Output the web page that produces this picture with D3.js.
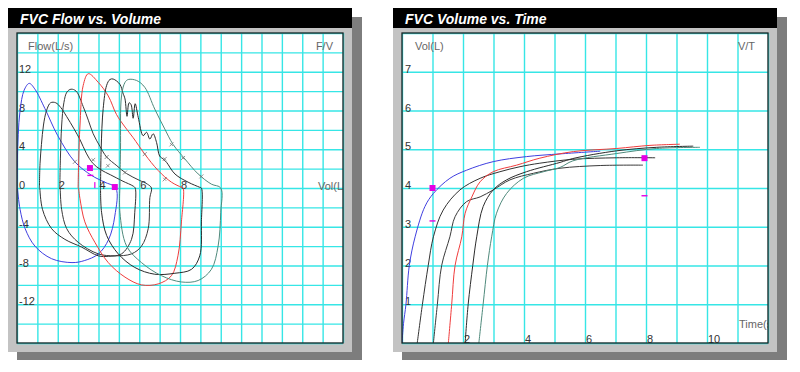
<!DOCTYPE html>
<html>
<head>
<meta charset="utf-8">
<script src="https://cdn.jsdelivr.net/npm/d3@7"></script>
<style>
  body { margin: 0; background: #fff; }
  svg { font-family: Arial, "Liberation Sans", sans-serif; }
</style>
</head>
<body>
<div id="chart"></div>
<script>
// ---- flow / volume loops, [volume L, flow L/s] ----
var fvBlue = [[0,0],[0.02,3],[0.06,5.5],[0.15,8],[0.35,10.1],[0.6,10.8],[0.88,10.2],[1.37,8.2],[2.0,5.4],[2.84,2.7],[3.66,1.3],[4.3,0.6],[4.85,0],
  [4.8,-2.9],[4.5,-5.3],[4.0,-6.8],[3.3,-7.5],[2.7,-7.7],[1.7,-7.3],[0.88,-6],[0.4,-4.2],[0.15,-2.2],[0.02,0]];
var fvBlack1 = [[1.1,0],[1.13,2.5],[1.2,4.5],[1.3,6.5],[1.45,8.0],[1.65,8.8],[1.9,8.8],[2.15,8.3],[2.43,7.4],[2.8,6.1],[3.09,5.0],[3.4,3.6],[3.7,2.6],[4.1,1.9],[4.6,1.35],[5.2,0.7],[5.7,0.2],[5.8,0],
  [5.78,-2.5],[5.62,-5.3],[5.13,-6.8],[4.5,-7.05],[3.99,-7.0],[3.17,-6.1],[2.35,-5.3],[1.7,-4.2],[1.25,-2.2],[1.12,0]];
var fvBlack2 = [[2.1,0],[2.13,3],[2.19,6.4],[2.3,8.8],[2.45,9.9],[2.65,10.2],[2.9,10.0],[3.25,8.4],[3.5,7.0],[3.74,5.6],[4.07,4.3],[4.4,3.2],[4.9,2.3],[5.37,1.5],[6.0,0.8],[6.4,0.4],[6.6,0],
  [6.52,-1],[6.44,-4.2],[6.11,-6],[5.62,-6.8],[4.8,-7.0],[3.99,-6.8],[3.0,-5.6],[2.44,-4.2],[2.19,-2.2],[2.12,0]];
var fvRed = [[3.0,0],[3.03,3],[3.09,6.4],[3.25,10.6],[3.5,11.8],[3.99,10.9],[4.48,9.5],[4.88,7.6],[5.3,6.3],[5.7,5.2],[6.27,3.5],[6.93,1.8],[7.58,0.6],[8.07,0.07],[8.15,0],
  [8.07,-3.5],[7.9,-7.0],[7.58,-9.05],[6.93,-9.9],[6.11,-10.0],[5.3,-9.2],[4.48,-7.7],[3.82,-5.6],[3.33,-3.5],[3.09,-1.1],[3.02,0]];
var fvBlack3 = [[4.1,0],[4.13,4],[4.23,8.2],[4.4,10.6],[4.56,11.2],[4.72,11.25],[5.05,10.7],[5.2,9.8],[5.3,9.2],[5.4,7.4],[5.5,8.8],[5.6,8.6],[5.7,7.2],[5.8,8.7],[5.95,7.3],[6.19,5.4],[6.36,5.75],[6.52,5.05],[6.68,5.6],[6.85,4.7],[7.0,3.3],[7.17,3.0],[7.34,2.65],[7.75,1.45],[8.4,0.6],[8.97,0.07],[9.05,0],
  [9.05,-3.5],[8.97,-7],[8.56,-8.4],[7.75,-8.8],[6.76,-8.9],[5.78,-8.2],[4.97,-6.8],[4.4,-4.9],[4.15,-2.5],[4.1,0]];
var fvTeal = [[5.05,0],[5.08,4],[5.13,9.5],[5.3,10.9],[5.46,11.2],[5.87,11.1],[6.27,10.4],[6.76,8.15],[7.25,6.1],[7.66,4.5],[8.24,3.0],[8.89,1.45],[9.54,0.4],[10.0,0],
  [10.0,-2.5],[9.87,-6],[9.54,-8.4],[8.89,-9.55],[8.07,-9.7],[7.09,-9.05],[6.11,-7.7],[5.38,-6],[5.05,-2.5],[5.05,0]];

// ---- volume / time curves, [time s, volume L] ----
var vtBlue = [[0,0],[0.05,0.5],[0.13,1],[0.24,2],[0.43,2.74],[0.75,3.52],[1.03,3.86],[1.57,4.25],[2.12,4.46],[2.99,4.68],[4.08,4.81],[5.18,4.88],[6.5,4.95]];
var vtBlack1 = [[0.5,0],[0.67,1],[0.86,2],[1.03,2.74],[1.35,3.43],[1.9,3.95],[2.56,4.25],[3.21,4.42],[3.87,4.55],[4.52,4.64],[5.6,4.74],[7.04,4.78],[8.3,4.78]];
var vtBlack2 = [[1.03,0],[1.16,1],[1.3,2],[1.57,2.74],[1.74,3.26],[2.12,3.65],[2.56,3.77],[2.99,3.95],[3.54,4.21],[4.31,4.38],[5.18,4.51],[6.5,4.58],[7.9,4.59]];
var vtRed = [[1.52,0],[1.63,1],[1.74,2],[1.96,2.74],[2.07,3.35],[2.29,3.77],[2.56,4.16],[2.99,4.42],[3.76,4.59],[4.52,4.77],[5.62,4.94],[7.04,5.02],[8.13,5.1],[9.11,5.13]];
var vtBlack3 = [[2.07,0],[2.17,1],[2.32,2],[2.45,2.74],[2.66,3.52],[2.99,3.95],[3.43,4.21],[4.08,4.42],[5.18,4.66],[5.6,4.76],[7.04,4.96],[8.35,5.05],[9.55,5.08]];
var vtTeal = [[2.52,0],[2.66,1],[2.8,2],[2.94,2.74],[3.1,3.35],[3.43,3.86],[3.98,4.25],[4.64,4.42],[5.18,4.53],[5.6,4.7],[7.04,4.89],[8.35,5.02],[9.77,5.05]];

var curveColors = ["#3f3fe0", "#333333", "#3a3a3a", "#f03c3c", "#2b2b2b", "#4f8a7c"];

// markers
var fvSquares = [[3.58,2.06],[4.8,0.1]];
var fvDashes = [[3.6,1.3]];
var fvBars = [[3.82,0.3]];
var fvCrosses = [[2.84,2.7],[3.74,2.9],[4.4,3.2],[4.46,2.3],[5.3,1.6],[6.27,3.5],[7.25,0.9],[7.58,4.5],[8.15,3.1],[7.25,3.0],[9.05,1.2]];
var vtSquares = [[1.0,4.0],[7.95,4.77]];
var vtDashes = [[1.0,3.15],[7.95,3.8]];

// tick labels
var fvYTicks = [12, 8, 4, 0, -4, -8, -12];
var fvXTicks = [2, 4, 6, 8];
var vtYTicks = [1, 2, 3, 4, 5, 6, 7];
var vtXTicks = [2, 4, 6, 8, 10];

var svg = d3.select("#chart").append("svg")
  .attr("width", 800)
  .attr("height", 372);

var line = d3.line().curve(d3.curveCatmullRom.alpha(0.5));

function panel(left, right, title, plot, id) {
  // shadow, body, header
  svg.append("rect").attr("x", left + 9).attr("y", 17).attr("width", right - left + 1).attr("height", 343)
    .attr("fill", "#7d7d7d");
  svg.append("rect").attr("x", left).attr("y", 8).attr("width", right - left).attr("height", 344)
    .attr("fill", "#c3c3c3");
  svg.append("rect").attr("x", left).attr("y", 8).attr("width", right - left).attr("height", 20)
    .attr("fill", "#000");
  svg.append("text").attr("x", left + 12).attr("y", 24)
    .attr("fill", "#fff").attr("font-size", 14).attr("font-weight", "bold").attr("font-style", "italic")
    .text(title);
  svg.append("rect").attr("x", plot[0]).attr("y", plot[1]).attr("width", plot[2] - plot[0]).attr("height", plot[3] - plot[1])
    .attr("fill", "#fff");
  svg.append("clipPath").attr("id", id).append("rect")
    .attr("x", plot[0]).attr("y", plot[1]).attr("width", plot[2] - plot[0]).attr("height", plot[3] - plot[1]);
}

function grid(x, y, xs, ys, plot) {
  var g = svg.append("g");
  g.append("g").attr("transform", "translate(0," + plot[3] + ")")
    .call(d3.axisBottom(x).tickValues(xs).tickSize(-(plot[3] - plot[1])).tickFormat(""))
    .call(function (a) { a.select(".domain").remove(); });
  g.append("g").attr("transform", "translate(" + plot[0] + ",0)")
    .call(d3.axisLeft(y).tickValues(ys).tickSize(-(plot[2] - plot[0])).tickFormat(""))
    .call(function (a) { a.select(".domain").remove(); });
  g.selectAll(".tick line").attr("stroke", "#36e6e6").attr("stroke-width", 1.4);
}

function border(plot) {
  svg.append("rect").attr("x", plot[0]).attr("y", plot[1]).attr("width", plot[2] - plot[0]).attr("height", plot[3] - plot[1])
    .attr("fill", "none").attr("stroke", "#222").attr("stroke-width", 1.3);
}

function label(x, y, txt, color, anchor, clip) {
  var t = svg.append("text").attr("x", x).attr("y", y).attr("font-size", 11)
    .attr("fill", color).attr("text-anchor", anchor || "start").text(txt);
  if (clip) t.attr("clip-path", "url(#" + clip + ")");
  return t;
}

// ================= Flow vs Volume =================
var fvPlot = [17, 33, 343, 343];
panel(8, 352, "FVC Flow vs. Volume", fvPlot, "clipFV");
var xFV = d3.scaleLinear().domain([0, 16]).range([fvPlot[0], fvPlot[2]]);
var yFV = d3.scaleLinear().domain([-16, 16]).range([fvPlot[3], fvPlot[1]]);
grid(xFV, yFV, d3.range(0, 17, 1), d3.range(-16, 17, 2), fvPlot);

fvYTicks.forEach(function (v) { label(19, yFV(v) + 1, v, "#333"); });
fvXTicks.forEach(function (v) { label(xFV(v) + 1, yFV(0) + 1, v, "#333"); });
label(28, 50, "Flow(L/s)", "#666");
label(333, 50, "F/V", "#666", "end");
label(318, yFV(0) + 2, "Vol(L)", "#666", "start", "clipFV");

line.x(function (d) { return xFV(d[0]); }).y(function (d) { return yFV(d[1]); });
var gFV = svg.append("g").attr("clip-path", "url(#clipFV)");
[fvBlue, fvBlack1, fvBlack2, fvRed, fvBlack3, fvTeal].forEach(function (c, i) {
  gFV.append("path").attr("d", line(c)).attr("fill", "none")
    .attr("stroke", curveColors[i]).attr("stroke-width", 1);
});

fvCrosses.forEach(function (d) {
  var cx = xFV(d[0]), cy = yFV(d[1]);
  gFV.append("path").attr("d", "M" + (cx - 2) + "," + (cy + 2) + "L" + (cx + 2) + "," + (cy - 2) + "M" + (cx - 1.5) + "," + (cy - 1.5) + "L" + (cx + 1.5) + "," + (cy + 1.5))
    .attr("stroke", "#777").attr("stroke-width", 0.8);
});
fvSquares.forEach(function (d) {
  gFV.append("rect").attr("x", xFV(d[0]) - 3).attr("y", yFV(d[1]) - 3).attr("width", 6).attr("height", 6).attr("fill", "#e400e4");
});
fvDashes.forEach(function (d) {
  gFV.append("rect").attr("x", xFV(d[0]) - 3).attr("y", yFV(d[1]) - 0.7).attr("width", 6).attr("height", 1.4).attr("fill", "#e400e4");
});
fvBars.forEach(function (d) {
  gFV.append("rect").attr("x", xFV(d[0]) - 0.6).attr("y", yFV(d[1]) - 3).attr("width", 1.2).attr("height", 6).attr("fill", "#e400e4");
});
border(fvPlot);

// ================= Volume vs Time =================
var vtPlot = [402, 33, 768, 343];
panel(393, 777, "FVC Volume vs. Time", vtPlot, "clipVT");
var xVT = d3.scaleLinear().domain([0, 12]).range([vtPlot[0], vtPlot[2]]);
var yVT = d3.scaleLinear().domain([0, 8]).range([vtPlot[3], vtPlot[1]]);
grid(xVT, yVT, d3.range(0, 13, 1), d3.range(0, 9, 1), vtPlot);

vtYTicks.forEach(function (v) { label(405, yVT(v) + 1, v, "#333"); });
vtXTicks.forEach(function (v) { label(xVT(v) + 1, yVT(0), v, "#333"); });
label(415, 50, "Vol(L)", "#666");
label(755, 50, "V/T", "#666", "end");
label(739, 328, "Time(s)", "#666", "start", "clipVT");

line.x(function (d) { return xVT(d[0]); }).y(function (d) { return yVT(d[1]); });
var gVT = svg.append("g").attr("clip-path", "url(#clipVT)");
[vtBlue, vtBlack1, vtBlack2, vtRed, vtBlack3, vtTeal].forEach(function (c, i) {
  gVT.append("path").attr("d", line(c)).attr("fill", "none")
    .attr("stroke", curveColors[i]).attr("stroke-width", 1);
});
vtSquares.forEach(function (d) {
  gVT.append("rect").attr("x", xVT(d[0]) - 3).attr("y", yVT(d[1]) - 3).attr("width", 6).attr("height", 6).attr("fill", "#e400e4");
});
vtDashes.forEach(function (d) {
  gVT.append("rect").attr("x", xVT(d[0]) - 3).attr("y", yVT(d[1]) - 0.7).attr("width", 6).attr("height", 1.4).attr("fill", "#e400e4");
});
border(vtPlot);
</script>
</body>
</html>
